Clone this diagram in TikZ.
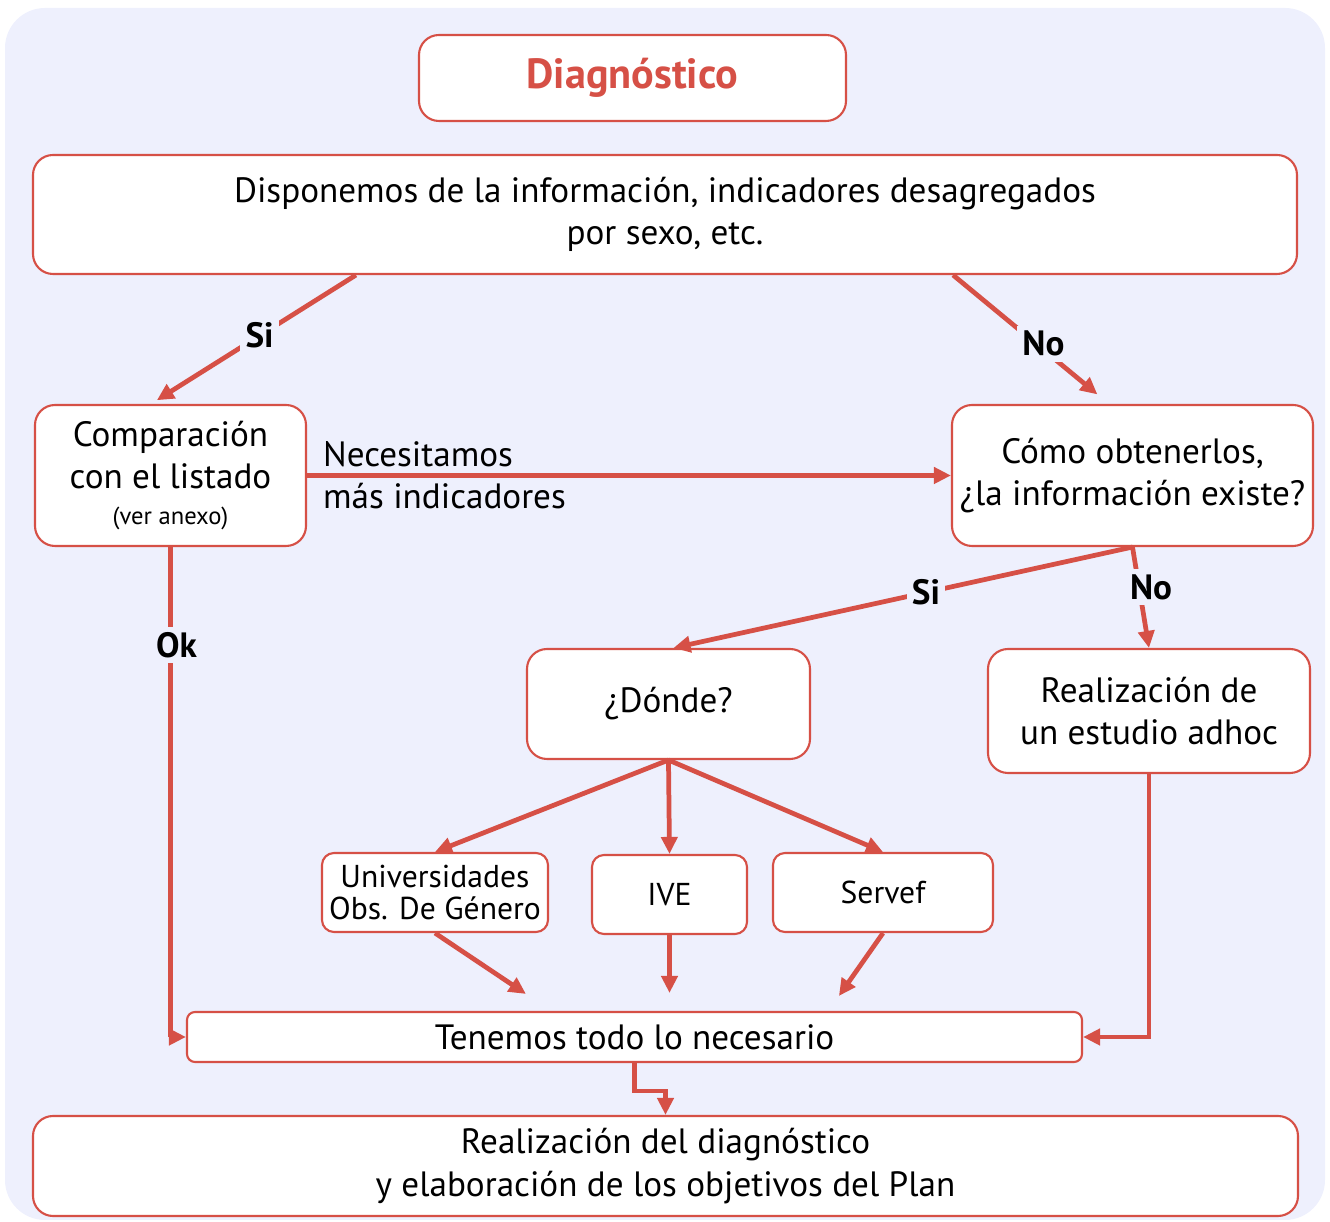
\documentclass[tikz,border=0pt]{standalone}
\usepackage{fontspec}
\setmainfont{PT Sans}
\usetikzlibrary{arrows.meta,positioning,calc}
\definecolor{linea}{RGB}{214,80,70}
\definecolor{fondo}{RGB}{238,240,253}

\begin{document}
\begin{tikzpicture}[
	box/.style={draw=linea,line width=0.6pt,fill=white,rounded corners=0.2cm,align=center,inner sep=2pt},
	arr/.style={draw=linea,line width=1.35pt,-{Triangle[length=0.17cm,width=0.16cm]}},
	lbl/.style={fill=fondo,font=\bfseries,inner sep=1.5pt},
	small/.style={font=\small}]
	% Fondo
	\useasboundingbox (0,0) rectangle (13.3,-12.22);
	\fill[fondo,rounded corners=0.4cm] (0.05,-0.08) rectangle (13.25,-12.2);
	
	% Cajas superiores
	\node[box,minimum width=4.27cm,minimum height=0.86cm,font=\large\bfseries,text=linea] (diag) at (6.325,-0.78) {Diagnóstico};
	\node[box,minimum width=12.64cm,minimum height=1.19cm] (dispo) at (6.65,-2.145) {Disponemos de la información, indicadores desagregados\\por sexo, etc.};
	
	% Segundo nivel
	\node[box,minimum width=2.71cm,minimum height=1.41cm] (comp) at (1.705,-4.755) {Comparación\\con el listado\\[-2pt]{\scriptsize (ver anexo)}};
	\node[box,minimum width=3.61cm,minimum height=1.41cm] (como) at (11.325,-4.755) {Cómo obtenerlos,\\¿la información existe?};
	
	% Tercer nivel
	\node[box,minimum width=2.83cm,minimum height=1.10cm] (donde) at (6.685,-7.04) {¿Dónde?};
	\node[box,minimum width=3.22cm,minimum height=1.24cm] (estudio) at (11.49,-7.11) {Realización de\\un estudio adhoc};
	
	% Fuentes
	\node[box,small,rounded corners=0.12cm,minimum width=2.26cm,minimum height=0.79cm,inner sep=1pt] (univ) at (4.35,-8.925) {Universidades\\[-2pt]Obs. De Género};
	\node[box,small,rounded corners=0.12cm,minimum width=1.55cm,minimum height=0.79cm] (ive) at (6.695,-8.945) {IVE};
	\node[box,small,rounded corners=0.12cm,minimum width=2.20cm,minimum height=0.79cm] (servef) at (8.83,-8.925) {Servef};
	
	% Cierre
	\node[box,rounded corners=0.08cm,minimum width=8.95cm,minimum height=0.50cm,inner sep=0pt] (tenemos) at (6.345,-10.37) {Tenemos todo lo necesario};
	\node[box,minimum width=12.65cm,minimum height=1.00cm] (final) at (6.655,-11.66) {Realización del diagnóstico\\y elaboración de los objetivos del Plan};
	
	% Conectores
	\draw[arr,shorten >=0.07cm] ([xshift=3.24cm]dispo.south west) -- ([xshift=1.17cm]comp.north west) node[lbl,pos=0.47] {Si};
	\draw[arr,shorten >=0.15cm] ([xshift=-3.45cm]dispo.south east) -- ([xshift=1.58cm]como.north west) node[lbl,pos=0.58,yshift=0.06cm] {No};
	\draw[arr] (comp.east) -- (como.west) node[pos=0,anchor=west,xshift=0.02cm,align=left] {Necesitamos\\más indicadores};
	\draw[arr] (como.south) -- ([xshift=0.05cm]donde.north) node[lbl,pos=0.45] {Si};
	\draw[arr] (como.south) -- (estudio.north) node[lbl,pos=0.4,xshift=0.12cm] {No};
	\draw[arr] (comp.south) |- (tenemos.west) node[lbl,pos=0.1,xshift=0.06cm] {Ok};
	\draw[arr] (estudio.south) |- (tenemos.east);
	\foreach \dest in {univ,ive,servef}
		\draw[arr] (donde.south) -- (\dest.north);
	\draw[arr] (univ.south) -- ([xshift=3.4cm,yshift=0.17cm]tenemos.north west);
	\draw[arr,shorten >=0.18cm] (ive.south) -- (ive.south |- tenemos.north);
	\draw[arr] (servef.south) -- ([xshift=6.53cm,yshift=0.15cm]tenemos.north west);
	\draw[arr] (tenemos.south) -- ++(0,-0.28) -| (final.north);
\end{tikzpicture}
\end{document}
